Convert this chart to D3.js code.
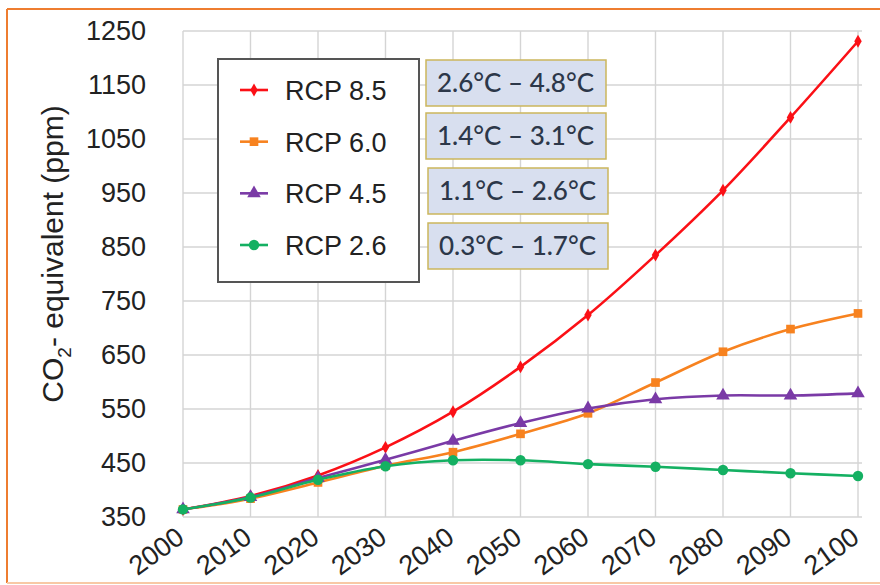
<!DOCTYPE html>
<html>
<head>
<meta charset="utf-8">
<script src="https://cdn.jsdelivr.net/npm/d3@7"></script>
<style>
  body { margin: 0; background: #fff; }
  svg text { fill: #222; }
</style>
</head>
<body>
<svg id="chart" width="880" height="585" font-family="Liberation Sans, Arial, sans-serif"></svg>
<script>
// data
var years = [2000, 2010, 2020, 2030, 2040, 2050, 2060, 2070, 2080, 2090, 2100];
var rcp85 = [364, 389, 427, 479, 545, 628, 724, 835, 955, 1090, 1231];
var rcp60 = [364, 384, 414, 445, 470, 504, 542, 599, 656, 698, 727];
var rcp45 = [364, 387, 422, 456, 491, 524, 551, 568, 575, 575, 579];
var rcp26 = [364, 386, 419, 444, 455, 455, 448, 443, 437, 431, 426];
var seriesNames = ["RCP 8.5", "RCP 6.0", "RCP 4.5", "RCP 2.6"];
var tempRanges = ["2.6°C – 4.8°C", "1.4°C – 3.1°C", "1.1°C – 2.6°C", "0.3°C – 1.7°C"];
var yTicks = [350, 450, 550, 650, 750, 850, 950, 1050, 1150, 1250];

var colors = ["#fb1016", "#f7821f", "#7a3aa6", "#14b062"];
var symbols = [d3.symbolDiamond, d3.symbolSquare, d3.symbolTriangle, d3.symbolCircle];
var symSizes = [48, 75, 80, 85];
var allSeries = [rcp85, rcp60, rcp45, rcp26];

var svg = d3.select("#chart");

// outer frame
svg.append("line").attr("x1", 7).attr("x2", 880).attr("y1", 9).attr("y2", 9)
    .attr("stroke", "#ee7d30").attr("stroke-width", 2);
svg.append("line").attr("x1", 7).attr("x2", 7).attr("y1", 9).attr("y2", 583)
    .attr("stroke", "#ee7d30").attr("stroke-width", 2);
svg.append("line").attr("x1", 7).attr("x2", 880).attr("y1", 583).attr("y2", 583)
    .attr("stroke", "#f8c9a6").attr("stroke-width", 2);

var x = d3.scaleLinear().domain([2000, 2100]).range([183, 858]);
var y = d3.scaleLinear().domain([350, 1250]).range([517, 31]);

// grid
var grid = svg.append("g");
grid.selectAll(".hg").data(yTicks).enter().append("line")
    .attr("x1", 183).attr("x2", 862)
    .attr("y1", d => y(d)).attr("y2", d => y(d))
    .attr("stroke", "#d4d4d4").attr("stroke-width", 1.4);
grid.selectAll(".vg").data(years).enter().append("line")
    .attr("x1", d => x(d)).attr("x2", d => x(d))
    .attr("y1", y(1250)).attr("y2", y(350))
    .attr("stroke", "#d4d4d4").attr("stroke-width", 1.4);

// y axis labels
var yAxis = svg.append("g")
    .attr("transform", "translate(183,0)")
    .call(d3.axisLeft(y).tickValues(yTicks).tickFormat(d3.format("d")).tickSize(0).tickPadding(37));
yAxis.select(".domain").remove();
yAxis.selectAll("text")
    .style("font-size", "27px")
    .style("font-family", "Liberation Sans, Arial, sans-serif")
    .attr("fill", "#222");

// x axis labels
var xAxis = svg.append("g");
xAxis.selectAll("text").data(years).enter().append("text")
    .attr("transform", d => "translate(" + (x(d) + 3) + ",541) rotate(-36)")
    .attr("text-anchor", "end")
    .style("font-size", "27px")
    .text(d => d);

// y title
var yt = svg.append("text")
    .attr("transform", "translate(63,254) rotate(-90)")
    .attr("text-anchor", "middle")
    .style("font-size", "30px");
yt.append("tspan").text("CO");
yt.append("tspan").style("font-size", "19px").attr("dy", 8).text("2");
yt.append("tspan").attr("dy", -8).text("- equivalent (ppm)");

// series
var line = d3.line()
    .x((d, i) => x(years[i]))
    .y(d => y(d))
    .curve(d3.curveCatmullRom.alpha(0.5));

allSeries.forEach(function (vals, k) {
    var g = svg.append("g");
    g.append("path").datum(vals)
        .attr("d", line)
        .attr("fill", "none")
        .attr("stroke", colors[k])
        .attr("stroke-width", 2.6);
    g.selectAll("path.m").data(vals).enter().append("path")
        .attr("class", "m")
        .attr("transform", (d, i) => "translate(" + x(years[i]) + "," + y(d) + ")")
        .attr("d", d3.symbol().type(symbols[k]).size(symSizes[k]))
        .attr("fill", colors[k]);
});

// legend
var legend = svg.append("g");
legend.append("rect").attr("x", 218).attr("y", 59).attr("width", 201).attr("height", 223)
    .attr("fill", "#fff").attr("stroke", "#555").attr("stroke-width", 2);
var rowY = d3.scalePoint().domain(seriesNames).range([90, 245]);
seriesNames.forEach(function (name, k) {
    var cy = rowY(name);
    legend.append("line").attr("x1", 240).attr("x2", 268).attr("y1", cy).attr("y2", cy)
        .attr("stroke", colors[k]).attr("stroke-width", 2.6);
    legend.append("path").attr("transform", "translate(254," + cy + ")")
        .attr("d", d3.symbol().type(symbols[k]).size(symSizes[k]))
        .attr("fill", colors[k]);
    legend.append("text").attr("x", 285).attr("y", cy + 10)
        .style("font-size", "27px").text(name);
});

// temperature boxes
var boxX = [426, 426, 428, 428];
var boxY = [60, 113, 168, 223];
tempRanges.forEach(function (t, k) {
    svg.append("rect").attr("x", boxX[k]).attr("y", boxY[k]).attr("width", 180).attr("height", 46)
        .attr("fill", "#d8dfef").attr("stroke", "#cbb65c").attr("stroke-width", 1.5);
    svg.append("text").attr("x", boxX[k] + 11).attr("y", boxY[k] + 32)
        .style("font-family", "Lato, sans-serif")
        .style("font-size", "26px")
        .style("font-weight", "500")
        .style("fill", "#2c3749")
        .text(t);
});
</script>
</body>
</html>
